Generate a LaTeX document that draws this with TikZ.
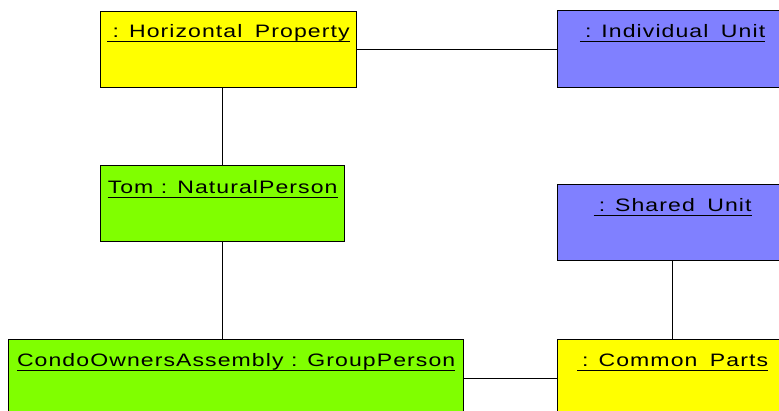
\documentclass[tikz,border=0pt]{standalone}
\usepackage{fontspec}
\newfontfamily\lblfont{Liberation Sans}[FakeStretch=1.28,LetterSpace=6]
\definecolor{objyellow}{RGB}{255,255,0}
\definecolor{objblue}{RGB}{128,128,255}
\definecolor{objgreen}{RGB}{128,255,0}
\newcommand{\wgap}{\ \hspace{5pt}}
\begin{document}
\begin{tikzpicture}[x=1pt,y=-1pt,
  box/.style={draw=black, line width=1.3pt, anchor=north west, inner sep=0pt, minimum height=76pt},
  lbl/.style={inner sep=0pt, font=\lblfont\fontsize{18}{20}\selectfont, anchor=base},
  uline/.style={draw=black, line width=1.2pt},
  conn/.style={draw=black, line width=1.3pt}]
\useasboundingbox (0,0) rectangle (779,410);
\clip (0,0) rectangle (779,410);
% boxes
\node[box, fill=objyellow, minimum width=256pt] (hp) at (100,11) {};
\node[box, fill=objblue, minimum width=230pt, minimum height=77pt] (iu) at (557,10) {};
\node[box, fill=objgreen, minimum width=244pt] (tom) at (100,165) {};
\node[box, fill=objblue, minimum width=230pt] (su) at (557,184) {};
\node[box, fill=objgreen, minimum width=455pt, minimum height=78pt] (coa) at (8,339) {};
\node[box, fill=objyellow, minimum width=230pt, minimum height=78pt] (cp) at (557,339) {};
% labels
\node[lbl] (hpt) at ([yshift=-26pt]hp.north) {\hspace*{5pt}: Horizontal\wgap Property};
\node[lbl] (iut) at ([yshift=-27pt]iu.north) {\hspace*{5pt}: Individual\wgap Unit};
\node[lbl] (tomt) at ([yshift=-28pt]tom.north) {Tom : NaturalPerson};
\node[lbl] (sut) at ([yshift=-27pt]su.north) {\hspace*{5pt}: Shared\wgap Unit};
\node[lbl] (coat) at ([yshift=-27pt]coa.north) {CondoOwnersAssembly : GroupPerson};
\node[lbl] (cpt) at ([yshift=-27pt]cp.north) {\hspace*{5pt}: Common\wgap Parts};
% underlines
\foreach \t in {hpt,iut,tomt,sut,coat,cpt}
  \draw[uline] ([yshift=-4.5pt]\t.base west) -- ([yshift=-4.5pt]\t.base east);
% connectors
\draw[conn] (hp.east) -- (hp.east -| iu.west);
\draw[conn] (tom.north) -- (tom.north |- hp.south);
\draw[conn] (tom.south) -- (tom.south |- coa.north);
\draw[conn] (su.south) -- (cp.north);
\draw[conn] (coa.east) -- (coa.east -| cp.west);
\end{tikzpicture}
\end{document}
